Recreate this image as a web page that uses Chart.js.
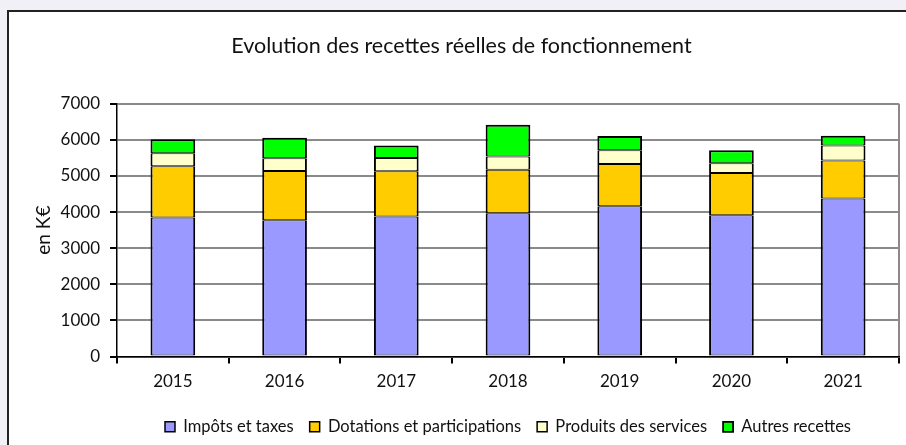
<!DOCTYPE html>
<html>
<head>
<meta charset="utf-8">
<script src="https://cdn.jsdelivr.net/npm/chart.js@4.4.1/dist/chart.umd.min.js"></script>
<style>
  html, body { margin: 0; padding: 0; background: #f1f0f6; width: 906px; height: 445px; overflow: hidden; }
  #frame { position: absolute; left: 7px; top: 10px; width: 1000px; height: 1000px; border: 2px solid #222; background: #fff; }
  #c { position: absolute; left: 0; top: 0; }
</style>
</head>
<body>
<div id="frame"></div>
<canvas id="c" width="906" height="445"></canvas>
<script>
const categories = ['2015', '2016', '2017', '2018', '2019', '2020', '2021'];
const impots      = [3850, 3775, 3875, 3970, 4165, 3915, 4380];
const dotations   = [1420, 1365, 1255, 1200, 1170, 1170, 1050];
const produits    = [360, 355, 370, 370, 380, 270, 415];
const autres      = [390, 565, 345, 880, 390, 355, 270];
const seriesNames = ['Impôts et taxes', 'Dotations et participations', 'Produits des services', 'Autres recettes'];
const yTicks = [0, 1000, 2000, 3000, 4000, 5000, 6000, 7000];

const FONT = 'Lato';
const colors = ['#9999ff', '#ffcc00', '#ffffcc', '#00ff00'];
const values = [impots, dotations, produits, autres];

const datasets = values.map((v, i) => ({
  label: seriesNames[i],
  data: v,
  backgroundColor: colors[i],
  borderColor: '#000',
  borderWidth: { left: 2, right: 2, top: i === values.length - 1 ? 2 : 1, bottom: 1 },
  borderSkipped: false,
  barPercentage: 0.4,
  categoryPercentage: 1.0
}));

new Chart(document.getElementById('c'), {
  type: 'bar',
  data: { labels: categories, datasets },
  options: {
    responsive: false,
    animation: false,
    devicePixelRatio: 1,
    layout: { padding: { left: 24, right: 7, top: 0, bottom: 0 } },
    plugins: {
      tooltip: { enabled: false },
      title: {
        display: true,
        text: 'Evolution des recettes réelles de fonctionnement',
        color: '#111',
        font: { family: FONT, size: 21.5, weight: 'normal' },
        padding: { top: 33, bottom: 45 }
      },
      legend: {
        display: true,
        position: 'bottom',
        fullSize: false,
        labels: {
          color: '#111',
          font: { family: FONT, size: 16.5 },
          boxWidth: 10,
          boxHeight: 10,
          padding: 16
        }
      }
    },
    scales: {
      x: {
        stacked: true,
        offset: true,
        grid: {
          offset: true,
          drawOnChartArea: true,
          color: (ctx) => (ctx.type === 'tick' ? 'rgba(0,0,0,0)' : '#8a8a8a'),
          tickColor: '#000',
          tickLength: 7,
          lineWidth: 2
        },
        border: { display: true, color: '#000', width: 1.5 },
        ticks: { color: '#111', font: { family: FONT, size: 17 }, padding: 8 },
        afterFit: (s) => { s.height = 46; }
      },
      y: {
        stacked: true,
        min: 0,
        max: 7000,
        afterBuildTicks: (s) => { s.ticks = yTicks.map(v => ({ value: v })); },
        grid: { color: '#8a8a8a', lineWidth: 2, tickColor: '#000', tickLength: 7 },
        border: { display: true, color: '#000', width: 1.5 },
        ticks: { color: '#111', font: { family: FONT, size: 17 }, padding: 10, callback: (v) => String(v) },
        title: {
          display: true,
          text: 'en K€',
          color: '#111',
          font: { family: FONT, size: 19 },
          padding: { top: 8, bottom: 0 }
        },
        afterFit: (s) => { s.width = 93; }
      }
    }
  }
});
</script>
</body>
</html>
